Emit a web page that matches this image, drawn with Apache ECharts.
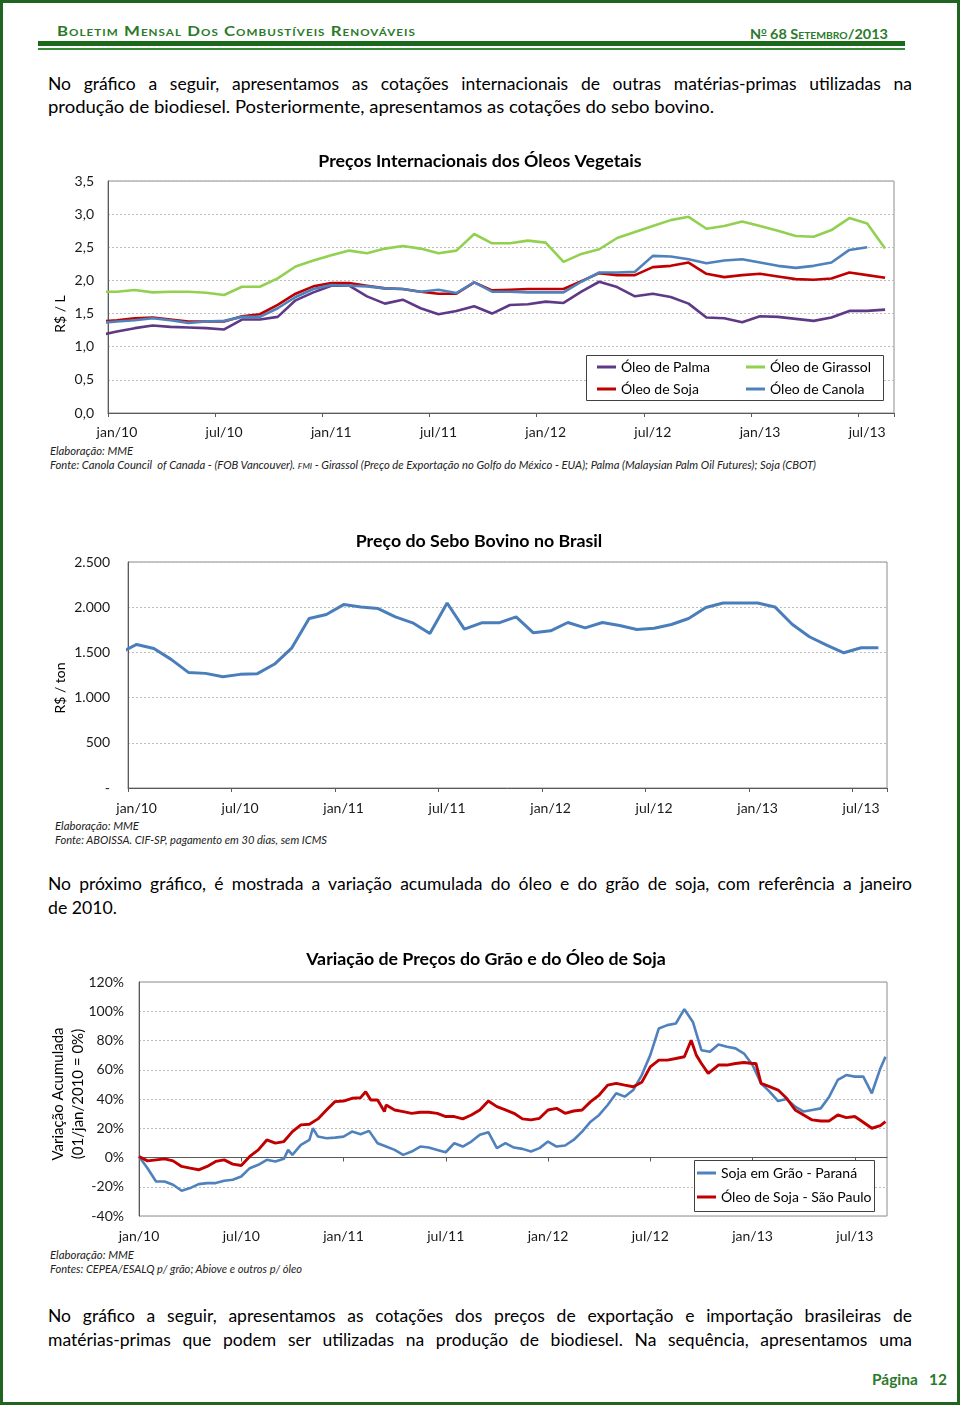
<!DOCTYPE html>
<html lang="pt-BR"><head><meta charset="utf-8">
<title>Boletim Mensal dos Combustíveis Renováveis</title>
<script src="https://cdn.jsdelivr.net/npm/echarts@6/dist/echarts.min.js"></script>
<style>
html,body{margin:0;padding:0;background:#fff;}
#page{position:relative;width:960px;height:1409px;overflow:hidden;background:#fff;font-family:Lato,"Noto Sans",sans-serif;color:#000;}
#frame{position:absolute;left:0;top:0;width:960px;height:1405px;box-sizing:border-box;border:3px solid #1f641f;}
.rule1{position:absolute;left:38px;top:41px;width:867px;height:5px;background:#1b6a1b;}
.rule2{position:absolute;left:38px;top:48px;width:867px;height:2px;background:#3b8a3b;}
.ln{position:absolute;white-space:nowrap;height:20px;line-height:20px;}
.ln > span{display:inline-block;transform-origin:0 50%;}
.p{font-size:17.5px;}
.fn{font-size:10.5px;font-style:italic;color:#222;}
.hd{font-weight:bold;color:#2b7a2b;font-size:13px;}
#chart{position:absolute;left:0;top:0;width:960px;height:1409px;}
</style></head>
<body>
<div id="page">
  <div id="frame"></div>
  <div class="ln hd" data-w="359" style="left:57px;top:21px"><span style="font-variant:small-caps;letter-spacing:0.8px">Boletim Mensal Dos Combustíveis Renováveis</span></div>
  <div class="ln hd" data-w="138" style="left:750px;top:21px;font-size:14px"><span>N<sup style="font-size:9px;text-decoration:underline;vertical-align:5px">o</sup> 68 <span style="font-variant:small-caps">Setembro</span>/2013</span></div>
  <div class="rule1"></div>
  <div class="rule2"></div>

  <div class="ln p" data-w="864" data-j="1" style="left:48px;top:74px"><span>No gráfico a seguir, apresentamos as cotações internacionais de outras matérias-primas utilizadas na</span></div>
  <div class="ln p" data-w="666" style="left:48px;top:97px"><span>produção de biodiesel. Posteriormente, apresentamos as cotações do sebo bovino.</span></div>

  <div class="ln fn" data-w="83" style="left:50px;top:441px"><span>Elaboração: MME</span></div>
  <div class="ln fn" data-w="766" style="left:50px;top:455px"><span>Fonte: Canola Council&nbsp; of Canada - (FOB Vancouver). <span style="font-size:8px">FMI</span> - Girassol (Preço de Exportação no Golfo do México - EUA); Palma (Malaysian Palm Oil Futures); Soja (CBOT)</span></div>

  <div class="ln fn" data-w="84" style="left:55px;top:816px"><span>Elaboração: MME</span></div>
  <div class="ln fn" data-w="272" style="left:55px;top:830px"><span>Fonte: ABOISSA. CIF-SP, pagamento em 30 dias, sem ICMS</span></div>

  <div class="ln p" data-w="864" data-j="1" style="left:48px;top:874px"><span>No próximo gráfico, é mostrada a variação acumulada do óleo e do grão de soja, com referência a janeiro</span></div>
  <div class="ln p" data-w="69" style="left:48px;top:898px"><span>de 2010.</span></div>

  <div class="ln fn" data-w="84" style="left:50px;top:1245px"><span>Elaboração: MME</span></div>
  <div class="ln fn" data-w="252" style="left:50px;top:1259px"><span>Fontes: CEPEA/ESALQ p/ grão; Abiove e outros p/ óleo</span></div>

  <div class="ln p" data-w="864" data-j="1" style="left:48px;top:1306px"><span>No gráfico a seguir, apresentamos as cotações dos preços de exportação e importação brasileiras de</span></div>
  <div class="ln p" data-w="864" data-j="1" style="left:48px;top:1330px"><span>matérias-primas que podem ser utilizadas na produção de biodiesel. Na sequência, apresentamos uma</span></div>

  <div class="ln" data-w="75" style="left:872px;top:1369px;font-weight:bold;color:#2b7a2b;font-size:15px"><span>Página&nbsp;&nbsp;&nbsp;12</span></div>

  <div id="chart"></div>
</div>
<script>
// ---------- DATA ----------
const categorias = [
  'jan/10','fev/10','mar/10','abr/10','mai/10','jun/10','jul/10','ago/10','set/10','out/10','nov/10','dez/10',
  'jan/11','fev/11','mar/11','abr/11','mai/11','jun/11','jul/11','ago/11','set/11','out/11','nov/11','dez/11',
  'jan/12','fev/12','mar/12','abr/12','mai/12','jun/12','jul/12','ago/12','set/12','out/12','nov/12','dez/12',
  'jan/13','fev/13','mar/13','abr/13','mai/13','jun/13','jul/13','ago/13'
];
const rotulosSoja = ['jan/10','jul/10','jan/11','jul/11','jan/12','jul/12','jan/13','jul/13'];

// Preços internacionais (R$/L), jan/10 .. ago/13; value for dez/09 (partially visible at the axis)
const oleoPalma = [1.23,1.28,1.32,1.30,1.29,1.28,1.26,1.41,1.41,1.45,1.70,1.82,1.92,1.92,1.76,1.65,1.71,1.58,1.49,1.54,1.61,1.50,1.63,1.64,1.68,1.66,1.83,1.98,1.90,1.76,1.80,1.75,1.65,1.44,1.43,1.37,1.46,1.45,1.42,1.39,1.44,1.54,1.54,1.56];
const oleoGirassol = [1.83,1.855,1.82,1.83,1.83,1.815,1.78,1.905,1.905,2.03,2.21,2.30,2.38,2.45,2.41,2.48,2.52,2.48,2.41,2.45,2.70,2.56,2.56,2.60,2.57,2.28,2.40,2.47,2.64,2.73,2.82,2.91,2.96,2.78,2.82,2.89,2.82,2.75,2.67,2.66,2.76,2.94,2.86,2.48];
const oleoSoja = [1.40,1.43,1.44,1.41,1.38,1.38,1.38,1.46,1.49,1.63,1.80,1.91,1.96,1.96,1.92,1.88,1.87,1.83,1.80,1.80,1.97,1.85,1.86,1.87,1.87,1.87,1.99,2.11,2.08,2.08,2.20,2.22,2.27,2.10,2.05,2.08,2.10,2.06,2.02,2.01,2.03,2.12,2.08,2.04];
const oleoCanola = [1.38,1.40,1.43,1.40,1.36,1.38,1.39,1.45,1.45,1.58,1.75,1.87,1.93,1.92,1.91,1.88,1.87,1.83,1.86,1.81,1.97,1.83,1.83,1.82,1.82,1.82,1.98,2.12,2.12,2.13,2.37,2.36,2.32,2.26,2.30,2.32,2.27,2.22,2.19,2.22,2.27,2.46,2.50,null];
const dez09Oleos = {palma:1.17, girassol:1.83, soja:1.38, canola:1.36};

// Sebo bovino (R$/ton), jan/10 .. ago/13
const seboBovino = [1588,1544,1423,1279,1268,1231,1257,1265,1371,1551,1875,1919,2029,2003,1985,1893,1827,1709,2047,1757,1827,1827,1893,1717,1739,1831,1772,1831,1798,1753,1768,1809,1875,1996,2047,2047,2047,2003,1812,1673,1581,1496,1551,1551];
const seboDez09 = 1490;

// Variação acumulada (%), [meses desde 01/jan/2010, valor]
const sojaGraoPR = [[0,0.7],[0.5,-7.3],[1,-16.4],[1.5,-16.4],[2,-18.6],[2.5,-22.7],[3,-20.9],[3.5,-18.2],[4,-17.5],[4.5,-17.5],[5,-15.9],[5.5,-15.2],[6,-13],[6.5,-7.3],[7,-5],[7.5,-1.6],[8,-2.7],[8.5,-0.9],[8.75,5.2],[9,1.8],[9.5,8.6],[10,12],[10.2,20],[10.5,14.3],[11,13.2],[11.5,13.6],[12,14.3],[12.5,17.7],[13,15.9],[13.5,18.2],[14,9.8],[14.5,7.5],[15,5.2],[15.5,1.8],[16,4.1],[16.5,7.5],[17,6.8],[17.5,5.2],[18,3.6],[18.5,9.8],[19,7.5],[19.5,10.9],[20,15.5],[20.5,17.3],[21,6.4],[21.5,9.8],[22,6.8],[22.5,5.9],[23,4.1],[23.5,6.4],[24,10.9],[24.5,7.5],[25,8.2],[25.5,12],[26,17.7],[26.5,24.5],[27,29.1],[27.5,35.9],[28,43.9],[28.5,41.6],[29,46.1],[29.5,56.4],[30,70],[30.5,88.2],[31,90.5],[31.5,91.6],[32,101.4],[32.5,92.7],[33,73.4],[33.5,72.3],[34,77.3],[34.5,75.7],[35,74.6],[35.5,71.1],[36,63.2],[36.5,50.7],[37,45],[37.5,38.6],[38,40],[38.5,34.8],[39,31.4],[39.5,32.5],[40,33.6],[40.5,41.6],[41,53],[41.5,56.4],[42,55.3],[42.5,55.3],[43,43.9],[43.5,60.9],[43.8,68.9]];
const oleoSojaSP = [[0,0.7],[0.5,-2.3],[1,-1.6],[1.5,-0.9],[2,-2.3],[2.5,-6.1],[3,-7.3],[3.5,-8.4],[4,-6.1],[4.5,-2.7],[5,-1.6],[5.5,-4.5],[6,-5.5],[6.5,0.7],[7,5.2],[7.5,12],[8,9.8],[8.5,10.9],[9,17.7],[9.5,22.3],[10,22.7],[10.5,26.4],[11,32.5],[11.5,38.2],[12,38.6],[12.5,40.5],[13,40.9],[13.3,45],[13.6,39.3],[14,39.3],[14.4,31.4],[14.5,35.9],[15,32.5],[15.5,31.4],[16,30.2],[16.5,30.9],[17,30.9],[17.5,30.2],[18,28],[18.5,28],[19,26.4],[19.5,29.1],[20,32.5],[20.5,38.6],[21,34.8],[21.5,32.5],[22,30.2],[22.5,26.4],[23,25.7],[23.5,26.8],[24,32.5],[24.5,33.6],[25,30.2],[25.5,31.8],[26,32.5],[26.5,38.2],[27,42.7],[27.5,49.5],[28,50.7],[28.5,49.5],[29,48.4],[29.5,51.4],[30,62],[30.5,66.6],[31,66.6],[31.5,67.7],[32,68.9],[32.4,80.2],[32.7,70],[33,64.3],[33.4,57.5],[34,63.2],[34.5,63.2],[35,64.3],[35.5,65],[36,64.3],[36.2,64.3],[36.5,50.7],[37,48.4],[37.5,46.1],[38,40.5],[38.5,32.5],[39,29.1],[39.5,25.7],[40,25],[40.5,25],[41,29.1],[41.5,27.3],[42,28],[42.5,24.1],[43,20],[43.5,21.8],[43.8,24.5]];

// ---------- TEXT FITTING ----------
function fitLines(){
  document.querySelectorAll('.ln').forEach(el=>{
    const sp = el.firstElementChild; const target = +el.dataset.w;
    sp.style.transform=''; sp.style.wordSpacing='';
    const w = sp.getBoundingClientRect().width;
    if (el.dataset.j){
      const n = (sp.textContent.match(/ /g)||[]).length;
      sp.style.wordSpacing = ((target - w)/n) + 'px';
    } else {
      sp.style.transform = 'scaleX(' + (target/w) + ')';
    }
  });
}
fitLines();
if (document.fonts && document.fonts.ready) document.fonts.ready.then(fitLines);

// ---------- CHART ----------
const FONT = 'Lato';
const pontos = (vals, ini) => { const o=[[-0.5, ini]]; vals.forEach((v,i)=>{ if(v!==null) o.push([i+0.5, v]); }); return o; };
const axisGray = '#5a5a5a';
const split = {show:true, lineStyle:{color:'#bdbdbd', type:[2,2], width:1}};
const lbl = {fontFamily:FONT, fontSize:14, color:'#1a1a1a'};

function catAxis(grid, margin){
  return {type:'category', gridIndex:grid, data:categorias, boundaryGap:true,
    axisLine:{lineStyle:{color:axisGray}}, axisTick:{show:true, interval:5, length:4, lineStyle:{color:axisGray}},
    axisLabel:Object.assign({interval:5, margin:margin}, lbl), splitLine:{show:false}};
}
function hidAxis(grid){ return {type:'value', gridIndex:grid, min:0, max:44, show:false}; }
const titleStyle = t => ({text:t, font:'bold 17.8px '+FONT, fill:'#000', align:'center', verticalAlign:'middle', textAlign:'center', textVerticalAlign:'middle'});
const nameStyle = (t, s) => ({text:t, font:s+'px '+FONT, fill:'#000', align:'center', verticalAlign:'middle', textAlign:'center', textVerticalAlign:'middle'});
const legText = {fontFamily:FONT, fontSize:14, color:'#000', lineHeight:16};

const chart = echarts.init(document.getElementById('chart'), null, {renderer:'canvas'});
const option = {
  animation:false,
  grid:[
    {left:108, top:181, width:786, height:232, show:true, borderColor:'#8c8c8c', borderWidth:1},
    {left:128, top:562, width:759, height:226, show:true, borderColor:'#8c8c8c', borderWidth:1},
    {left:139, top:982, width:748, height:234, show:true, borderColor:'#8c8c8c', borderWidth:1}
  ],
  xAxis:[
    catAxis(0, 12), hidAxis(0), catAxis(1, 13), hidAxis(1),
    {type:'value', gridIndex:2, min:0, max:43.89, interval:6,
     axisLine:{lineStyle:{color:axisGray}}, axisTick:{show:true, length:4, lineStyle:{color:axisGray}},
     axisLabel:Object.assign({margin:13, showMaxLabel:false, formatter:v=> (v%6===0 && rotulosSoja[v/6]) ? rotulosSoja[v/6] : ''}, lbl),
     splitLine:{show:false}}
  ],
  yAxis:[
    {type:'value', gridIndex:0, min:0, max:3.5, interval:0.5, axisLine:{show:true, lineStyle:{color:axisGray}}, axisTick:{show:false},
     axisLabel:Object.assign({margin:14, formatter:v=>v.toFixed(1).replace('.',',')}, lbl), splitLine:split},
    {type:'value', gridIndex:1, min:0, max:2500, interval:500, axisLine:{show:true, lineStyle:{color:axisGray}}, axisTick:{show:false},
     axisLabel:Object.assign({margin:18, formatter:v=> v===0 ? '-' : (v>=1000 ? Math.floor(v/1000)+'.'+String(v%1000).padStart(3,'0') : String(v))}, lbl), splitLine:split},
    {type:'value', gridIndex:2, min:-40, max:120, interval:20, axisLine:{show:true, lineStyle:{color:axisGray}}, axisTick:{show:false},
     axisLabel:Object.assign({margin:15, formatter:v=>v+'%'}, lbl), splitLine:split}
  ],
  legend:[
    {data:['Óleo de Palma','Óleo de Soja'], orient:'vertical', left:597, top:359, itemWidth:19, itemHeight:3, icon:'rect', itemGap:6, padding:0, selectedMode:false, textStyle:legText},
    {data:['Óleo de Girassol','Óleo de Canola'], orient:'vertical', left:746, top:359, itemWidth:19, itemHeight:3, icon:'rect', itemGap:6, padding:0, selectedMode:false, textStyle:legText},
    {data:['Soja em Grão - Paraná','Óleo de Soja - São Paulo'], orient:'vertical', left:697, top:1165, itemWidth:19, itemHeight:3, icon:'rect', itemGap:8, padding:0, selectedMode:false, textStyle:legText}
  ],
  graphic:[
    {type:'rect', z:3, shape:{x:586.5, y:355.5, width:297, height:45}, style:{fill:'#fff', stroke:'#404040', lineWidth:1}},
    {type:'rect', z:3, shape:{x:694.5, y:1160.5, width:180, height:51}, style:{fill:'#fff', stroke:'#404040', lineWidth:1}},
    {type:'text', z:5, x:480, y:161, style:titleStyle('Preços Internacionais dos Óleos Vegetais')},
    {type:'text', z:5, x:479, y:541, style:titleStyle('Preço do Sebo Bovino no Brasil')},
    {type:'text', z:5, x:486, y:959, style:titleStyle('Variação de Preços do Grão e do Óleo de Soja')},
    {type:'text', z:5, x:60, y:314, rotation:Math.PI/2, style:nameStyle('R$ / L', 14)},
    {type:'text', z:5, x:60, y:688, rotation:Math.PI/2, style:nameStyle('R$ / ton', 14)},
    {type:'text', z:5, x:58.5, y:1094, rotation:Math.PI/2, style:nameStyle('Variação Acumulada', 15)},
    {type:'text', z:5, x:78, y:1094, rotation:Math.PI/2, style:nameStyle('(01/jan/2010 = 0%)', 15)}
  ],
  series:[
    {name:'Óleo de Palma', type:'line', xAxisIndex:1, yAxisIndex:0, data:pontos(oleoPalma, dez09Oleos.palma), symbol:'none', clip:true, color:'#5E3A86', lineStyle:{width:2.6}},
    {name:'Óleo de Girassol', type:'line', xAxisIndex:1, yAxisIndex:0, data:pontos(oleoGirassol, dez09Oleos.girassol), symbol:'none', clip:true, color:'#92D050', lineStyle:{width:2.6}},
    {name:'Óleo de Soja', type:'line', xAxisIndex:1, yAxisIndex:0, data:pontos(oleoSoja, dez09Oleos.soja), symbol:'none', clip:true, color:'#C00000', lineStyle:{width:2.6}},
    {name:'Óleo de Canola', type:'line', xAxisIndex:1, yAxisIndex:0, data:pontos(oleoCanola, dez09Oleos.canola), symbol:'none', clip:true, color:'#4F81BD', lineStyle:{width:2.6}},
    {name:'Sebo Bovino', type:'line', xAxisIndex:3, yAxisIndex:1, data:pontos(seboBovino, seboDez09), symbol:'none', clip:true, color:'#4A7EBB', lineStyle:{width:3}},
    {name:'Soja em Grão - Paraná', type:'line', xAxisIndex:4, yAxisIndex:2, data:sojaGraoPR, symbol:'none', clip:true, color:'#4F81BD', lineStyle:{width:2.6}},
    {name:'Óleo de Soja - São Paulo', type:'line', xAxisIndex:4, yAxisIndex:2, data:oleoSojaSP, symbol:'none', clip:true, color:'#C00000', lineStyle:{width:2.9}}
  ]
};
chart.setOption(option);
</script>
</body></html>
